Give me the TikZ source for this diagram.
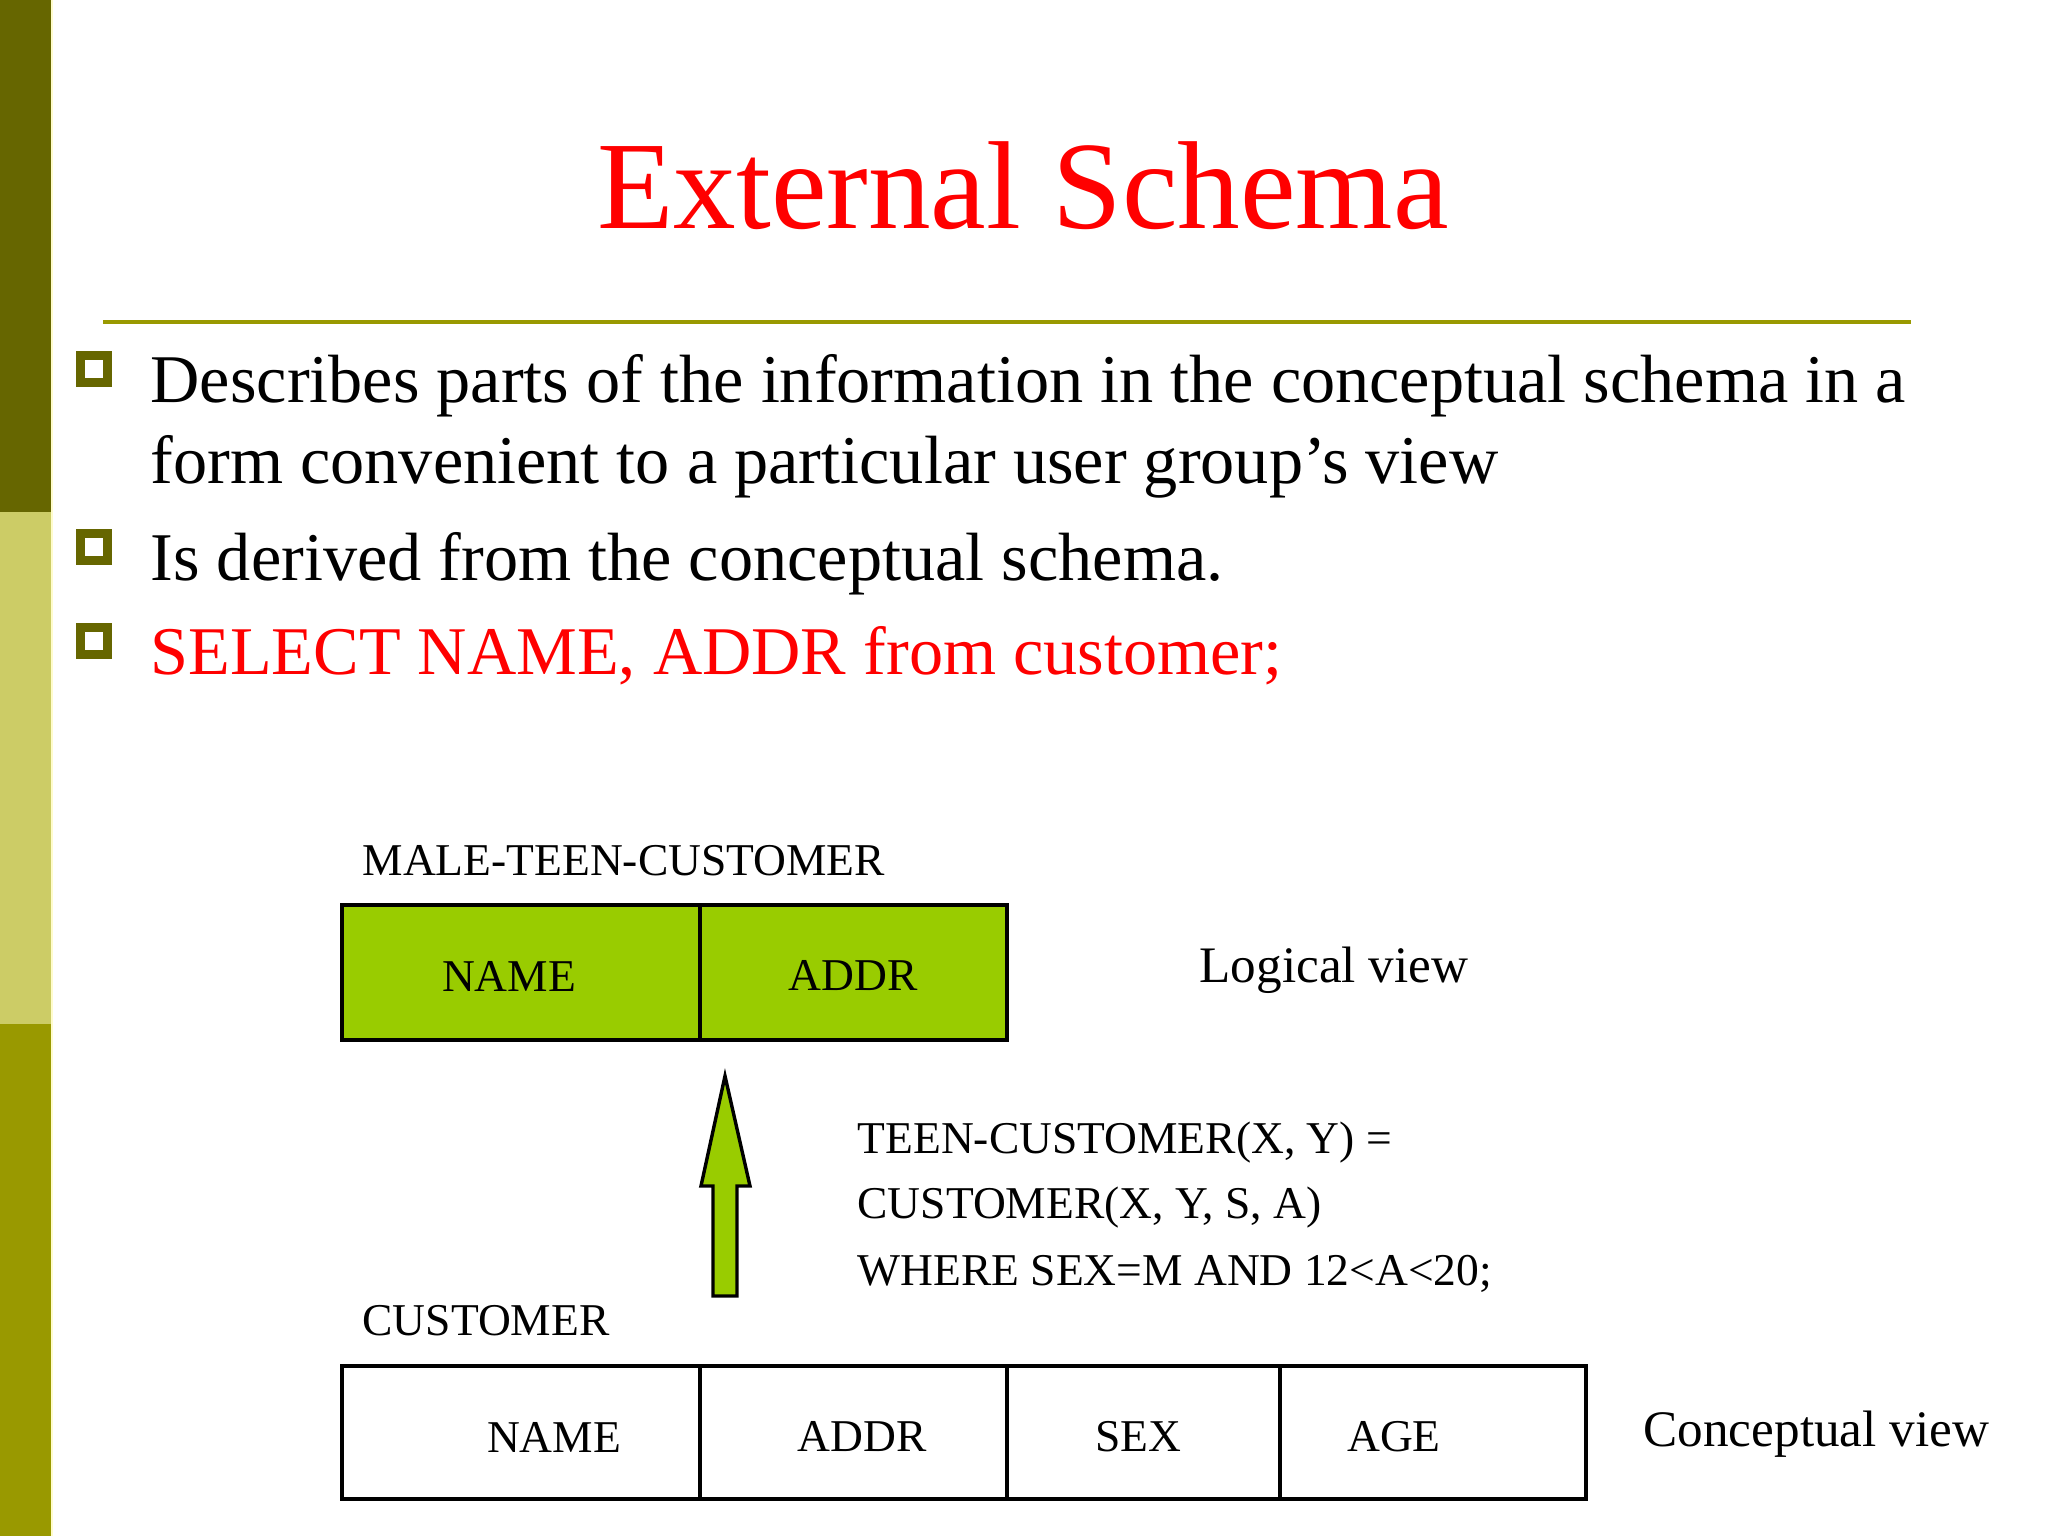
\documentclass[tikz,border=0pt]{standalone}
\usepackage{fontspec}
\setmainfont{Liberation Serif}
\usetikzlibrary{positioning}

\definecolor{bardark}{HTML}{666600}
\definecolor{barlight}{HTML}{CCCC66}
\definecolor{barmid}{HTML}{999900}
\definecolor{cellgreen}{HTML}{99CC00}
\definecolor{titlered}{HTML}{FF0000}

\begin{document}
\begin{tikzpicture}[x=0.3515625pt,y=-0.3515625pt,
  bigtext/.style={font=\fontsize{24}{28}\selectfont,anchor=base west,inner sep=0pt},
  smalltext/.style={font=\fontsize{16}{19}\selectfont,anchor=base west,inner sep=0pt},
  viewtext/.style={font=\fontsize{18}{21}\selectfont,anchor=base west,inner sep=0pt},
  celltext/.style={font=\fontsize{16}{19}\selectfont,inner sep=0pt},
  bulletbox/.style={draw=bardark,line width=3.3pt}]
\useasboundingbox (0,0) rectangle (2048,1536);
\fill[white] (0,0) rectangle (2048,1536);

% Side bar
\fill[bardark] (0,0) rectangle (51,512);
\fill[barlight] (0,512) rectangle (51,1024);
\fill[barmid] (0,1024) rectangle (51,1536);
\draw[yellow!20,line width=0.7pt] (52,0) -- (52,1536);

% Title + rule
\node[font=\fontsize{44}{52}\selectfont,text=titlered,anchor=base,inner sep=0pt] (title) at (1023,229) {External Schema};
\draw[barmid,line width=1.4pt] (103,322) -- (1911,322);

% Bullets
\foreach \y in {369,547,641}
  \draw[bulletbox] (94-13.2,\y-13.2) rectangle (94+13.2,\y+13.2);
\node[bigtext] (b1a) at (150,403) {Describes parts of the information in the conceptual schema in a};
\node[bigtext] (b1b) at (150,484) {form convenient to a particular user group’s view};
\node[bigtext] (b2) at (150,581) {Is derived from the conceptual schema.};
\node[bigtext,text=titlered] (b3) at (150,675) {SELECT NAME, ADDR from customer;};

% Logical view
\node[smalltext] (mtc) at (362,875) {MALE-TEEN-CUSTOMER};
\draw[line width=1.2pt,fill=cellgreen] (342,905) rectangle (1007,1040);
\draw[line width=1.2pt] (700,905) -- (700,1040);
\node[celltext] (lname) at (509,976) {NAME};
\node[celltext] (laddr) at (853,976) {ADDR};
\node[viewtext] (lview) at (1199,982) {Logical view};

% Arrow
\draw[line width=1.2pt,fill=cellgreen,line join=miter]
  (713,1296) -- (713,1186) -- (701,1186) -- (725,1076) -- (750,1186)
  -- (737,1186) -- (737,1296) -- cycle;

% Mapping text
\node[smalltext] (map1) at (857,1153) {TEEN-CUSTOMER(X, Y) =};
\node[smalltext] (map2) at (857,1218) {CUSTOMER(X, Y, S, A)};
\node[smalltext] (map3) at (857,1285) {WHERE SEX=M AND 12<A<20;};

% Conceptual view
\node[smalltext] (cust) at (362,1335) {CUSTOMER};
\draw[line width=1.2pt] (342,1366) rectangle (1586,1499);
\foreach \x in {700,1007,1280}
  \draw[line width=1.2pt] (\x,1366) -- (\x,1499);
\node[celltext] (cname) at (554,1437) {NAME};
\node[celltext] (caddr) at (862,1437) {ADDR};
\node[celltext] (csex) at (1138,1437) {SEX};
\node[celltext] (cage) at (1394,1437) {AGE};
\node[viewtext] (cview) at (1643,1446) {Conceptual view};
\end{tikzpicture}
\end{document}
